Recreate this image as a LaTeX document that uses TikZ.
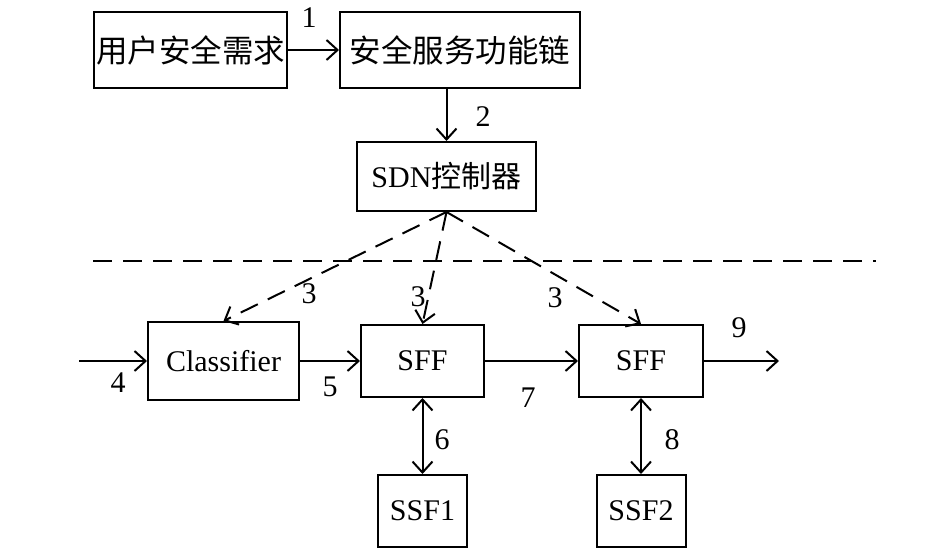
\documentclass[tikz,border=0pt]{standalone}
\usepackage{fontspec}
\setmainfont{Liberation Serif}
\newfontfamily\cjk{Noto Sans CJK SC}
\usetikzlibrary{arrows.meta}
\begin{document}
\begin{tikzpicture}[x=1pt,y=-1pt,
  box/.style={draw,line width=2pt,inner sep=0pt,font=\fontsize{30}{36}\selectfont},
  conn/.style={line width=2pt,-{Straight Barb[length=11pt,width=20pt,line width=2pt]}},
  bconn/.style={line width=2pt,{Straight Barb[length=11pt,width=20pt,line width=2pt]}-{Straight Barb[length=11pt,width=20pt,line width=2pt]}},
  dconn/.style={conn,dash pattern=on 19pt off 11pt},
  lbl/.style={font=\fontsize{30}{36}\selectfont,inner sep=0pt}]
\useasboundingbox (0,0) rectangle (945,554);
\node[box,minimum width=193pt,minimum height=76pt] (req) at (190.5,50) {\cjk\fontsize{31.5}{36}\selectfont 用户安全需求};
\node[box,minimum width=240pt,minimum height=76pt] (sfc) at (460,50) {\cjk\fontsize{31.5}{36}\selectfont 安全服务功能链};
\node[box,minimum width=179pt,minimum height=69pt] (sdn) at (446.5,176.5) {SDN{\cjk 控制器}};
\node[box,minimum width=151pt,minimum height=78pt] (cls) at (223.5,361) {Classifier};
\node[box,minimum width=123pt,minimum height=72pt] (sff1) at (422.5,361) {SFF};
\node[box,minimum width=124pt,minimum height=72pt] (sff2) at (641,361) {SFF};
\node[box,minimum width=89pt,minimum height=72pt] (ssf1) at (422.5,511) {SSF1};
\node[box,minimum width=89pt,minimum height=72pt] (ssf2) at (641,511) {SSF2};
\coordinate (in) at (79,361);
\coordinate (out) at (779,361);
\coordinate (dl) at (93,261);
\coordinate (dr) at (876,261);
\draw[conn] (req) -- (sfc);
\draw[conn] (sdn.north |- sfc.south) -- (sdn.north);
\draw[line width=2pt,dash pattern=on 19pt off 11pt] (dl) -- (dr);
\draw[dconn] (sdn.south) -- (cls.north);
\draw[dconn] (sdn.south) -- (sff1.north);
\draw[dconn] (sdn.south) -- (sff2.north);
\draw[conn] (in) -- (cls);
\draw[conn] (cls) -- (sff1);
\draw[conn] (sff1) -- (sff2);
\draw[conn] (sff2) -- (out);
\draw[bconn] (sff1) -- (ssf1);
\draw[bconn] (sff2) -- (ssf2);
\node[lbl] (l1) at (309,18) {1};
\node[lbl] (l2) at (483,117) {2};
\node[lbl] (l3a) at (309,294) {3};
\node[lbl] (l3b) at (418,297) {3};
\node[lbl] (l3c) at (555,298) {3};
\node[lbl] (l4) at (118,383) {4};
\node[lbl] (l5) at (330,387) {5};
\node[lbl] (l6) at (442,440) {6};
\node[lbl] (l7) at (528,398) {7};
\node[lbl] (l8) at (672,440) {8};
\node[lbl] (l9) at (739,328) {9};
\end{tikzpicture}
\end{document}
